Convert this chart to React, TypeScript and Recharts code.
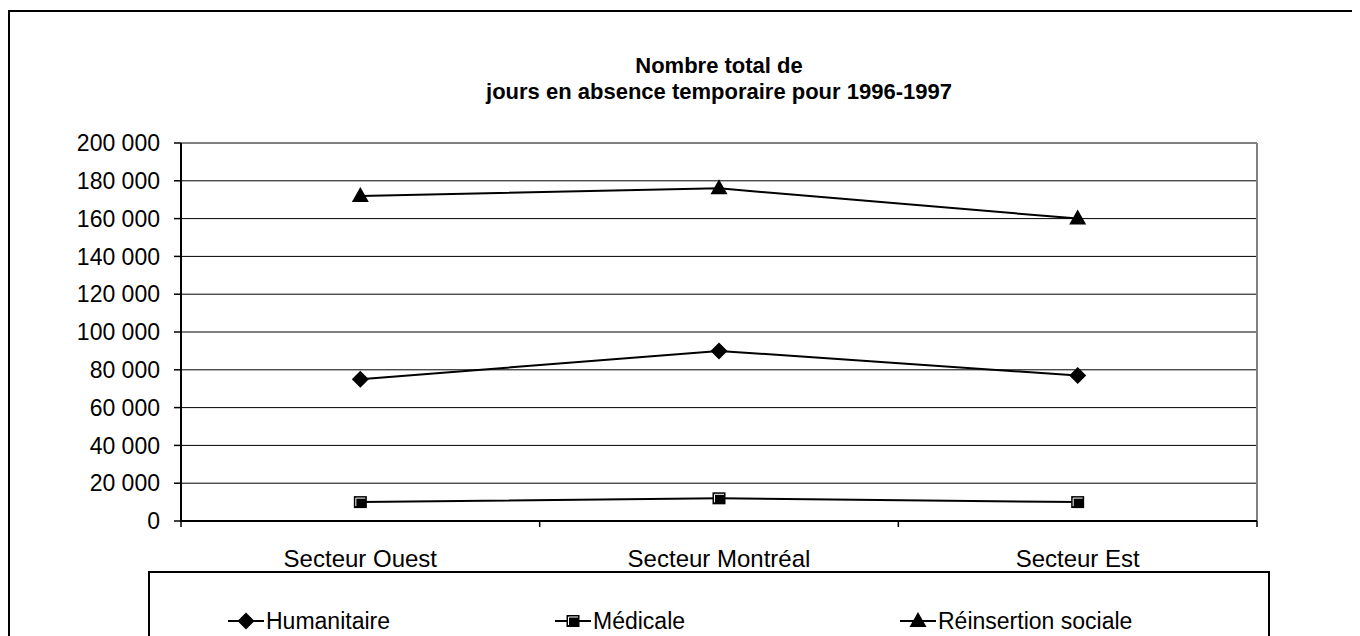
import React from 'react';
import { LineChart, Line, XAxis, YAxis, CartesianGrid, ReferenceLine, Legend } from 'recharts';

const categories = ['Secteur Ouest', 'Secteur Montréal', 'Secteur Est'];
const humanitaire = [75000, 90000, 77000];
const medicale = [10000, 12000, 10000];
const reinsertion = [172000, 176000, 160000];
const yTicks = [0, 20000, 40000, 60000, 80000, 100000, 120000, 140000, 160000, 180000, 200000];
const titleLines = ['Nombre total de', 'jours en absence temporaire pour 1996-1997'];

const data = categories.map((c, i) => ({
  pos: i + 0.5,
  name: c,
  h: humanitaire[i],
  m: medicale[i],
  r: reinsertion[i],
}));

const xTicks = [0, 0.5, 1, 1.5, 2, 2.5, 3];
const FONT = '"Liberation Sans", Arial, sans-serif';

const fmt = (v: number) => String(v).replace(/\B(?=(\d{3})+(?!\d))/g, ' ');

function Diamond({ cx, cy }: { cx: number; cy: number }) {
  const s = 8.5;
  return <polygon points={`${cx},${cy - s} ${cx + s},${cy} ${cx},${cy + s} ${cx - s},${cy}`} fill="#000" />;
}
function Square({ cx, cy }: { cx: number; cy: number }) {
  return (
    <g>
      <rect x={cx - 6.5} y={cy - 6} width={13} height={12} fill="#000" />
      <polyline points={`${cx - 4.5},${cy + 4} ${cx - 4.5},${cy - 4} ${cx + 5},${cy - 4}`} fill="none" stroke="#fff" strokeWidth={1} />
    </g>
  );
}
function Triangle({ cx, cy }: { cx: number; cy: number }) {
  return <polygon points={`${cx},${cy - 9} ${cx + 8.5},${cy + 6} ${cx - 8.5},${cy + 6}`} fill="#000" />;
}

const series = [
  { key: 'h', name: 'Humanitaire', Marker: Diamond, left: 80 },
  { key: 'm', name: 'Médicale', Marker: Square, left: 407 },
  { key: 'r', name: 'Réinsertion sociale', Marker: Triangle, left: 752 },
];

function XTick(props: any) {
  const { x, y, payload } = props;
  const v = payload.value as number;
  if (Number.isInteger(v)) {
    return <line x1={x} y1={y} x2={x} y2={y + 6} stroke="#000" strokeWidth={1.5} />;
  }
  const idx = Math.floor(v);
  return (
    <text x={x} y={y + 37} textAnchor="middle" dominantBaseline="central" fontSize={24} fontFamily={FONT} fill="#000">
      {categories[idx]}
    </text>
  );
}

function LegendContent() {
  return (
    <div style={{ position: 'relative', width: '100%', height: '100%' }}>
      {series.map((s) => (
        <div
          key={s.key}
          style={{ position: 'absolute', left: s.left - 2, top: 36, display: 'flex', alignItems: 'center', fontFamily: FONT, fontSize: 23, color: '#000', whiteSpace: 'nowrap' }}
        >
          <svg width={36} height={24} style={{ display: 'block' }}>
            <line x1={0} y1={12} x2={36} y2={12} stroke="#000" strokeWidth={2} />
            <s.Marker cx={18} cy={12} />
          </svg>
          <span style={{ marginLeft: 2, lineHeight: '24px' }}>{s.name}</span>
        </div>
      ))}
    </div>
  );
}

export default function App() {
  return (
    <div style={{ position: 'relative', width: 1352, height: 628, overflow: 'hidden', background: '#fff' }}>
      <div
        style={{ position: 'absolute', left: 0, top: 2, width: 1351, height: 640, borderTop: '2px solid #000', borderLeft: '2px solid #000', borderRight: '2px solid #000', boxSizing: 'border-box' }}
      />
      <div
        style={{ position: 'absolute', left: 173, top: 45, width: 1076, textAlign: 'center', fontFamily: FONT, fontWeight: 'bold', fontSize: 22, lineHeight: '26px', color: '#000' }}
      >
        {titleLines.map((t) => (
          <div key={t}>{t}</div>
        ))}
      </div>
      <div style={{ position: 'absolute', left: 0, top: 0 }}>
        <LineChart width={1352} height={628} data={data} margin={{ top: 135, right: 103, bottom: 75, left: 73 }}>
          <CartesianGrid horizontal vertical={false} stroke="#000" strokeWidth={1} />
          <XAxis
            dataKey="pos"
            type="number"
            domain={[0, 3]}
            ticks={xTicks}
            interval={0}
            allowDecimals
            height={40}
            tickSize={0}
            tickMargin={0}
            tickLine={false}
            axisLine={{ stroke: '#000', strokeWidth: 2 }}
            tick={<XTick />}
          />
          <YAxis
            type="number"
            domain={[0, 200000]}
            ticks={yTicks}
            interval={0}
            width={100}
            tickSize={7}
            tickMargin={14}
            tickLine={{ stroke: '#000', strokeWidth: 1.5 }}
            axisLine={{ stroke: '#000', strokeWidth: 2 }}
            tickFormatter={fmt}
            tick={{ fontSize: 23, fontFamily: FONT, fill: '#000' }}
          />
          <ReferenceLine y={200000} stroke="#808080" strokeWidth={2} />
          <ReferenceLine x={3} stroke="#808080" strokeWidth={2} />
          {series.map((s) => (
            <Line
              key={s.key}
              dataKey={s.key}
              name={s.name}
              stroke="#000"
              strokeWidth={2}
              isAnimationActive={false}
              dot={(p: any) => <s.Marker key={`${s.key}-${p.index}`} cx={p.cx} cy={p.cy} />}
              activeDot={false}
            />
          ))}
          <Legend
            layout="horizontal"
            verticalAlign="middle"
            align="center"
            content={<LegendContent />}
            wrapperStyle={{ left: 140, top: 563, width: 1122, height: 65, border: '2px solid #000', borderBottom: 'none', boxSizing: 'border-box', background: '#fff' }}
          />
        </LineChart>
      </div>
    </div>
  );
}
